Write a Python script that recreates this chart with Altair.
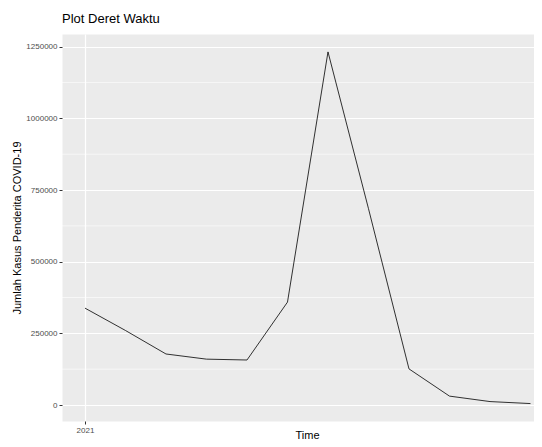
import altair as alt
import pandas as pd

# Monthly index (2021, Jan..Dec) and case counts
months = [1, 2, 3, 4, 5, 6, 7, 8, 9, 10, 11, 12]
cases = [338000, 260000, 178000, 160000, 157000, 359000, 1232000, 685000, 126000, 31000, 12000, 5000]
y_ticks = [0, 250000, 500000, 750000, 1000000, 1250000]
y_minor = [125000, 375000, 625000, 875000, 1125000]
x_ticks = [2021]

df = pd.DataFrame({"t": [2021 + (m - 1) / 12 for m in months], "cases": cases})
minor_df = pd.DataFrame({"v": y_minor})

FONT = "Liberation Sans"
x_dom = [2020.9527, 2021.9239]
y_dom = [-55800, 1294500]

x_axis = alt.Axis(
    values=x_ticks, format="d", grid=True, gridColor="white", gridWidth=1.2,
    domain=False, tickColor="#333333", tickSize=3, tickWidth=1,
    labelColor="#4D4D4D", labelFontSize=8, labelFont=FONT, labelPadding=2,
    title="Time", titleFont=FONT, titleFontSize=11, titleFontWeight="normal",
    titleColor="black", titleX=245, titleY=8, titleBaseline="top", titleAlign="center",
)
y_axis = alt.Axis(
    values=y_ticks, format="d", grid=True, gridColor="white", gridWidth=1.2,
    domain=False, tickColor="#333333", tickSize=3, tickWidth=1,
    labelColor="#4D4D4D", labelFontSize=8, labelFont=FONT, labelPadding=2,
    title="Jumlah Kasus Penderita COVID-19", titleFont=FONT, titleFontSize=11,
    titleFontWeight="normal", titleColor="black", titleAngle=-90,
    titleX=-45, titleY=193.5, titleBaseline="middle", titleAlign="center",
)

minor = alt.Chart(minor_df).mark_rule(color="white", strokeWidth=0.6).encode(
    y=alt.Y("v:Q", scale=alt.Scale(domain=y_dom, nice=False, zero=False), axis=y_axis)
)

line = alt.Chart(df).mark_line(color="black", strokeWidth=0.8).encode(
    x=alt.X("t:Q", scale=alt.Scale(domain=x_dom, nice=False, zero=False), axis=x_axis),
    y=alt.Y("cases:Q", scale=alt.Scale(domain=y_dom, nice=False, zero=False), axis=y_axis),
)

chart = alt.layer(minor, line).properties(
    width=472,
    height=387,
    autosize="none",
    padding={"left": 54, "top": 26, "right": 0, "bottom": 18},
    title=alt.TitleParams(
        "Plot Deret Waktu", anchor="start", frame="group", font=FONT,
        fontSize=13, fontWeight="normal", color="black", offset=8,
    ),
    background="white",
).configure_view(fill="#EBEBEB", stroke="transparent")

chart.save("out.html", embed_options={"renderer": "svg", "actions": False})
